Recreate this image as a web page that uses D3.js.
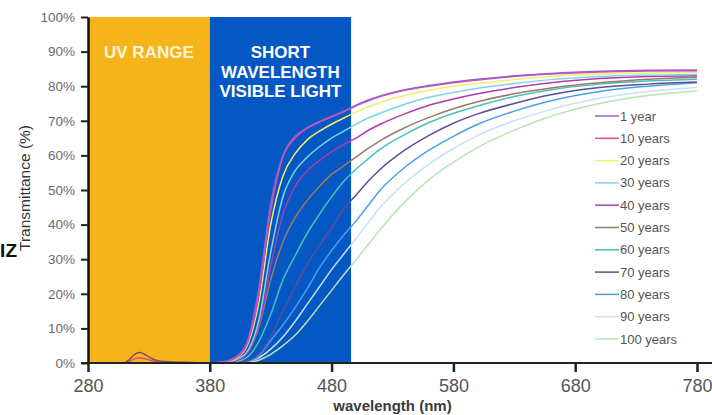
<!DOCTYPE html>
<html>
<head>
<meta charset="utf-8">
<script src="https://cdn.jsdelivr.net/npm/d3@7"></script>
<style>
  body { margin: 0; background: #fff; }
  svg { display: block; font-family: "Liberation Sans", Arial, sans-serif; }
</style>
</head>
<body>
<svg id="lenschart" width="712" height="415"></svg>
<script>
// wavelength grid (nm) for the visible part of each curve
var wavelengths = [380, 390, 400, 410, 420, 430, 440, 450, 460, 470, 480, 490, 500, 510, 520, 540, 560, 580, 600, 630, 660, 700, 740, 780];

// transmittance (%) per lens age
var year1   = [0, 0.3, 1.5, 5.5, 21, 46, 60, 65.5, 68, 69.8, 71.3, 72.8, 74.5, 76, 77.2, 79, 80.2, 81.2, 82, 83, 83.7, 84.3, 84.6, 84.7];
var years10 = [0, 0.2, 1.2, 5, 19, 44, 59.5, 65, 67.8, 69.6, 71.1, 72.6, 74.3, 75.8, 77, 78.8, 80, 81, 81.8, 82.8, 83.5, 84.1, 84.4, 84.5];
var years20 = [0, 0.2, 1.1, 4.5, 17, 40, 54, 60.5, 64.5, 67, 69, 70.8, 72.5, 74, 75.3, 77.3, 78.8, 80, 80.8, 81.9, 82.8, 83.5, 83.8, 84];
var years30 = [0, 0.1, 0.8, 3, 12, 32, 48, 55.5, 59.5, 62.5, 65, 67, 69, 70.8, 72.2, 74.8, 76.8, 78.2, 79.4, 80.8, 81.9, 82.8, 83.2, 83.4];
var years40 = [0, 0.1, 0.6, 2.5, 11, 28, 43, 51, 55.5, 58.5, 61, 63.2, 65, 67.2, 69, 72, 74.5, 76.3, 77.8, 79.6, 81, 82.2, 82.8, 83];
var years50 = [0, 0.1, 0.5, 2.5, 10, 24, 35, 42, 47, 51, 54.5, 57, 59.5, 62, 64.3, 68, 71, 73.5, 75.5, 77.8, 79.5, 81, 82, 82.6];
var years60 = [0, 0, 0.3, 1.5, 6, 14, 24, 31, 37.5, 43, 48, 52.5, 56, 59, 61.8, 66, 69.5, 72.2, 74.3, 77, 79, 80.6, 81.5, 82];
var years70 = [0, 0, 0.1, 0.5, 2.5, 7.5, 15, 22, 28.5, 34, 39, 44.5, 48.5, 52.5, 56, 61.5, 65.8, 69.3, 72, 75, 77.5, 79.6, 80.6, 81.2];
var years80 = [0, 0, 0, 0.3, 2, 6.5, 11, 16, 21.5, 27.5, 32.5, 37, 41, 45.5, 50, 56.5, 61.5, 65.5, 69, 72.8, 75.8, 78.5, 80, 81];
var years90 = [0, 0, 0, 0.3, 1.5, 4, 7.5, 12, 17, 22, 27, 31.5, 36, 40.5, 45, 52, 57.5, 62, 65.8, 70, 73.3, 76.5, 78.5, 79.6];
var years100 = [0, 0, 0, 0.1, 0.8, 2.5, 5, 8, 12, 16.5, 21, 25.5, 29.8, 34.2, 38.6, 46.5, 53, 58, 62.3, 67.3, 71.3, 75, 77.3, 78.6];

// small bumps in the UV range
var uvWavelengths = [310, 314, 318, 322, 326, 330, 334, 340, 350, 360, 370, 380];
var uvBumpHigh = [0, 1, 2.4, 3, 2.6, 1.8, 1, 0.5, 0.3, 0.2, 0.1, 0];
var uvBumpLow  = [0, 0.5, 1.2, 1.5, 1.3, 0.9, 0.5, 0.2, 0.1, 0, 0, 0];

var seriesNames = ["1 year", "10 years", "20 years", "30 years", "40 years", "50 years", "60 years", "70 years", "80 years", "90 years", "100 years"];
var seriesValues = [year1, years10, years20, years30, years40, years50, years60, years70, years80, years90, years100];
var seriesColors = ["#9b5fd6", "#e8489a", "#eef06e", "#7fd4e6", "#b03ab5", "#9a7a66", "#48c0b8", "#5e4c9c", "#4aa0e8", "#c8e0f8", "#b8e4b4"];

var xTicks = [280, 380, 480, 580, 680, 780];
var yTicks = [0, 10, 20, 30, 40, 50, 60, 70, 80, 90, 100];

// bands: [start, end] nm
var uvBand = [280, 380];
var blueBand = [380, 496];

var svg = d3.select("#lenschart");

var x = d3.scaleLinear().domain([280, 780]).range([88, 697]);
var y = d3.scaleLinear().domain([0, 100]).range([363, 17]);

// background bands
svg.append("rect")
    .attr("x", x(uvBand[0]))
    .attr("y", y(100))
    .attr("width", x(uvBand[1]) - x(uvBand[0]))
    .attr("height", y(0) - y(100))
    .attr("fill", "#f5b41a");

svg.append("rect")
    .attr("x", x(blueBand[0]))
    .attr("y", y(100))
    .attr("width", x(blueBand[1]) - x(blueBand[0]))
    .attr("height", y(0) - y(100))
    .attr("fill", "#0558c4");

svg.append("text")
    .attr("x", x((uvBand[0] + uvBand[1]) / 2))
    .attr("y", 58)
    .attr("text-anchor", "middle")
    .attr("font-size", 17)
    .attr("font-weight", "bold")
    .attr("fill", "#fbf2dc")
    .text("UV RANGE");

var bandLines = ["SHORT", "WAVELENGTH", "VISIBLE LIGHT"];
svg.append("g").selectAll("text")
    .data(bandLines)
    .enter().append("text")
    .attr("x", x((blueBand[0] + blueBand[1]) / 2))
    .attr("y", function (d, i) { return 58 + i * 19.5; })
    .attr("text-anchor", "middle")
    .attr("font-size", 17)
    .attr("font-weight", "bold")
    .attr("fill", "#ffffff")
    .text(function (d) { return d; });

// curves
var line = d3.line()
    .x(function (d) { return x(d[0]); })
    .y(function (d) { return y(d[1]); })
    .curve(d3.curveMonotoneX);

var curves = svg.append("g");

curves.append("path")
    .datum(uvWavelengths.map(function (w, i) { return [w, uvBumpLow[i]]; }))
    .attr("fill", "none")
    .attr("stroke", "#e0506a")
    .attr("stroke-width", 1.5)
    .attr("d", line);

curves.append("path")
    .datum(uvWavelengths.map(function (w, i) { return [w, uvBumpHigh[i]]; }))
    .attr("fill", "none")
    .attr("stroke", "#8a5060")
    .attr("stroke-width", 1.5)
    .attr("d", line);

// draw oldest first so the young curves sit on top
for (var s = seriesValues.length - 1; s >= 0; s--) {
    curves.append("path")
        .datum(wavelengths.map(function (w, i) { return [w, seriesValues[s][i]]; }))
        .attr("fill", "none")
        .attr("stroke", seriesColors[s])
        .attr("stroke-width", 1.5)
        .attr("stroke-linejoin", "round")
        .attr("d", line);
}

// axes
var yAxis = svg.append("g")
    .attr("transform", "translate(" + x(280) + ",0)")
    .call(d3.axisLeft(y).tickValues(yTicks).tickSize(7).tickSizeOuter(0).tickPadding(6)
        .tickFormat(function (d) { return d + "%"; }));
yAxis.select(".domain").attr("stroke", "#111").attr("stroke-width", 2.5);
yAxis.selectAll(".tick line").attr("stroke", "#222").attr("stroke-width", 2);
yAxis.selectAll(".tick text")
    .attr("font-size", 13.5)
    .attr("fill", "#6a6a6a")
    .attr("font-family", "Liberation Sans, Arial, sans-serif");

var xAxis = svg.append("g")
    .attr("transform", "translate(0," + y(0) + ")")
    .call(d3.axisBottom(x).tickValues(xTicks).tickSize(9).tickSizeOuter(0).tickPadding(7));
xAxis.select(".domain").remove();
xAxis.selectAll(".tick line").attr("stroke", "#222").attr("stroke-width", 2.5);
xAxis.selectAll(".tick text")
    .attr("font-size", 18)
    .attr("fill", "#555")
    .attr("font-family", "Liberation Sans, Arial, sans-serif");

// bottom baseline runs from the 0% tick to the page edge
svg.append("line")
    .attr("x1", x(280) - 7)
    .attr("x2", 712)
    .attr("y1", y(0))
    .attr("y2", y(0))
    .attr("stroke", "#222")
    .attr("stroke-width", 1.8);

svg.append("text")
    .attr("x", (x(280) + x(780)) / 2)
    .attr("y", 411)
    .attr("text-anchor", "middle")
    .attr("font-size", 15)
    .attr("font-weight", "bold")
    .attr("fill", "#3a3a3a")
    .text("wavelength (nm)");

svg.append("text")
    .attr("transform", "translate(30," + (y(50) - 2) + ") rotate(-90)")
    .attr("text-anchor", "middle")
    .attr("font-size", 15.5)
    .attr("fill", "#333")
    .text("Transmittance (%)");

// clipped text bit at the left edge
svg.append("text")
    .attr("x", 17)
    .attr("y", 257)
    .attr("text-anchor", "end")
    .attr("font-size", 19)
    .attr("font-weight", "bold")
    .attr("fill", "#111")
    .text("IZ");

// legend
var legend = svg.append("g").attr("transform", "translate(595,116)");
var rows = legend.selectAll("g")
    .data(seriesNames)
    .enter().append("g")
    .attr("transform", function (d, i) { return "translate(0," + (i * 22.3) + ")"; });

rows.append("line")
    .attr("x1", 0)
    .attr("x2", 24)
    .attr("stroke", function (d, i) { return seriesColors[i]; })
    .attr("stroke-width", 1.5);

rows.append("text")
    .attr("x", 25)
    .attr("dy", "0.35em")
    .attr("font-size", 13)
    .attr("fill", "#555")
    .text(function (d) { return d; });
</script>
</body>
</html>
